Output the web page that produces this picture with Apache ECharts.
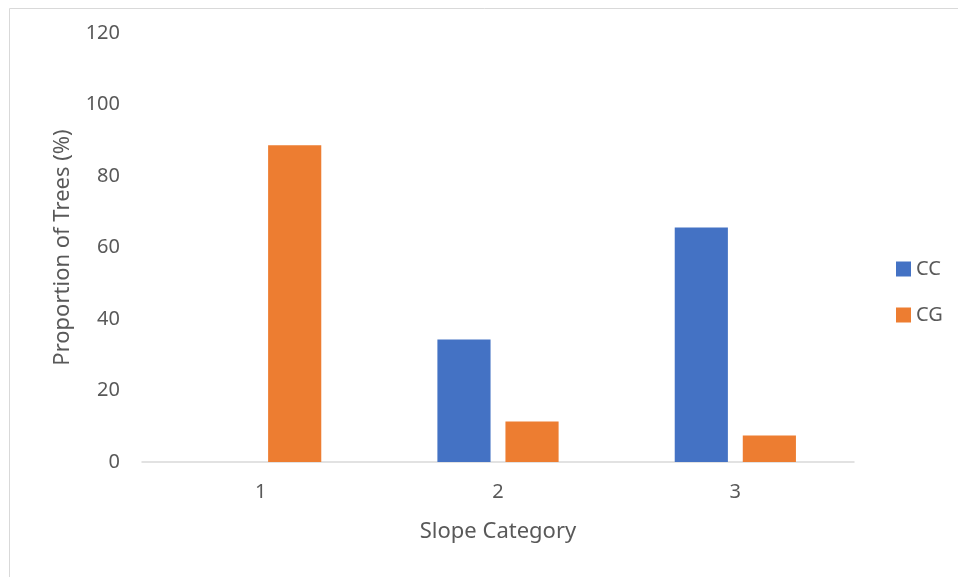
<!DOCTYPE html>
<html>
<head>
<meta charset="utf-8">
<style>
  html, body { margin: 0; padding: 0; background: #ffffff; }
  #chart { width: 958px; height: 577px; }
</style>
<script src="https://cdn.jsdelivr.net/npm/echarts@6/dist/echarts.min.js"></script>
</head>
<body>
<div id="chart"></div>
<script>
// Slope categories on the x axis
const categories = ['1', '2', '3'];
// Proportion of trees (%) per slope category
const ccValues = [0, 34.3, 65.6];
const cgValues = [88.6, 11.3, 7.4];
const seriesNames = ['CC', 'CG'];

const textColor = '#595959';
const fontFamily = '"Noto Sans", "Open Sans", sans-serif';

const chart = echarts.init(document.getElementById('chart'), null, { renderer: 'canvas' });

chart.setOption({
  backgroundColor: '#ffffff',
  animation: false,
  textStyle: { fontFamily: fontFamily, color: textColor },
  graphic: [{
    type: 'rect',
    shape: { x: 9.5, y: 8.5, width: 1000, height: 1000 },
    style: { fill: 'none', stroke: '#d9d9d9', lineWidth: 1 },
    silent: true
  }],
  grid: { left: 142, right: 104, top: 33, bottom: 115, containLabel: false },
  legend: {
    orient: 'vertical',
    left: 896,
    top: 259,
    padding: 0,
    itemWidth: 15,
    itemHeight: 15,
    itemGap: 26,
    icon: 'rect',
    data: seriesNames,
    textStyle: { fontFamily: fontFamily, fontSize: 20, lineHeight: 20, color: textColor }
  },
  xAxis: {
    type: 'category',
    data: categories,
    name: 'Slope Category',
    nameLocation: 'middle',
    nameGap: 59,
    nameTextStyle: { fontFamily: fontFamily, fontSize: 22, color: textColor },
    axisLine: { lineStyle: { color: '#d9d9d9', width: 1.5 } },
    axisTick: { show: false },
    axisLabel: { fontFamily: fontFamily, fontSize: 20, color: textColor, margin: 20 }
  },
  yAxis: {
    type: 'value',
    min: 0,
    max: 120,
    interval: 20,
    name: 'Proportion of Trees (%)',
    nameLocation: 'middle',
    nameGap: 68,
    nameTextStyle: { fontFamily: fontFamily, fontSize: 22, color: textColor },
    axisLine: { show: false },
    axisTick: { show: false },
    splitLine: { show: false },
    axisLabel: { fontFamily: fontFamily, fontSize: 20, color: textColor, margin: 22 }
  },
  series: [
    {
      name: seriesNames[0],
      type: 'bar',
      data: ccValues,
      barWidth: '22.4%',
      barGap: '28%',
      itemStyle: { color: '#4472c4' }
    },
    {
      name: seriesNames[1],
      type: 'bar',
      data: cgValues,
      barWidth: '22.4%',
      barGap: '28%',
      itemStyle: { color: '#ed7d31' }
    }
  ]
});
</script>
</body>
</html>
